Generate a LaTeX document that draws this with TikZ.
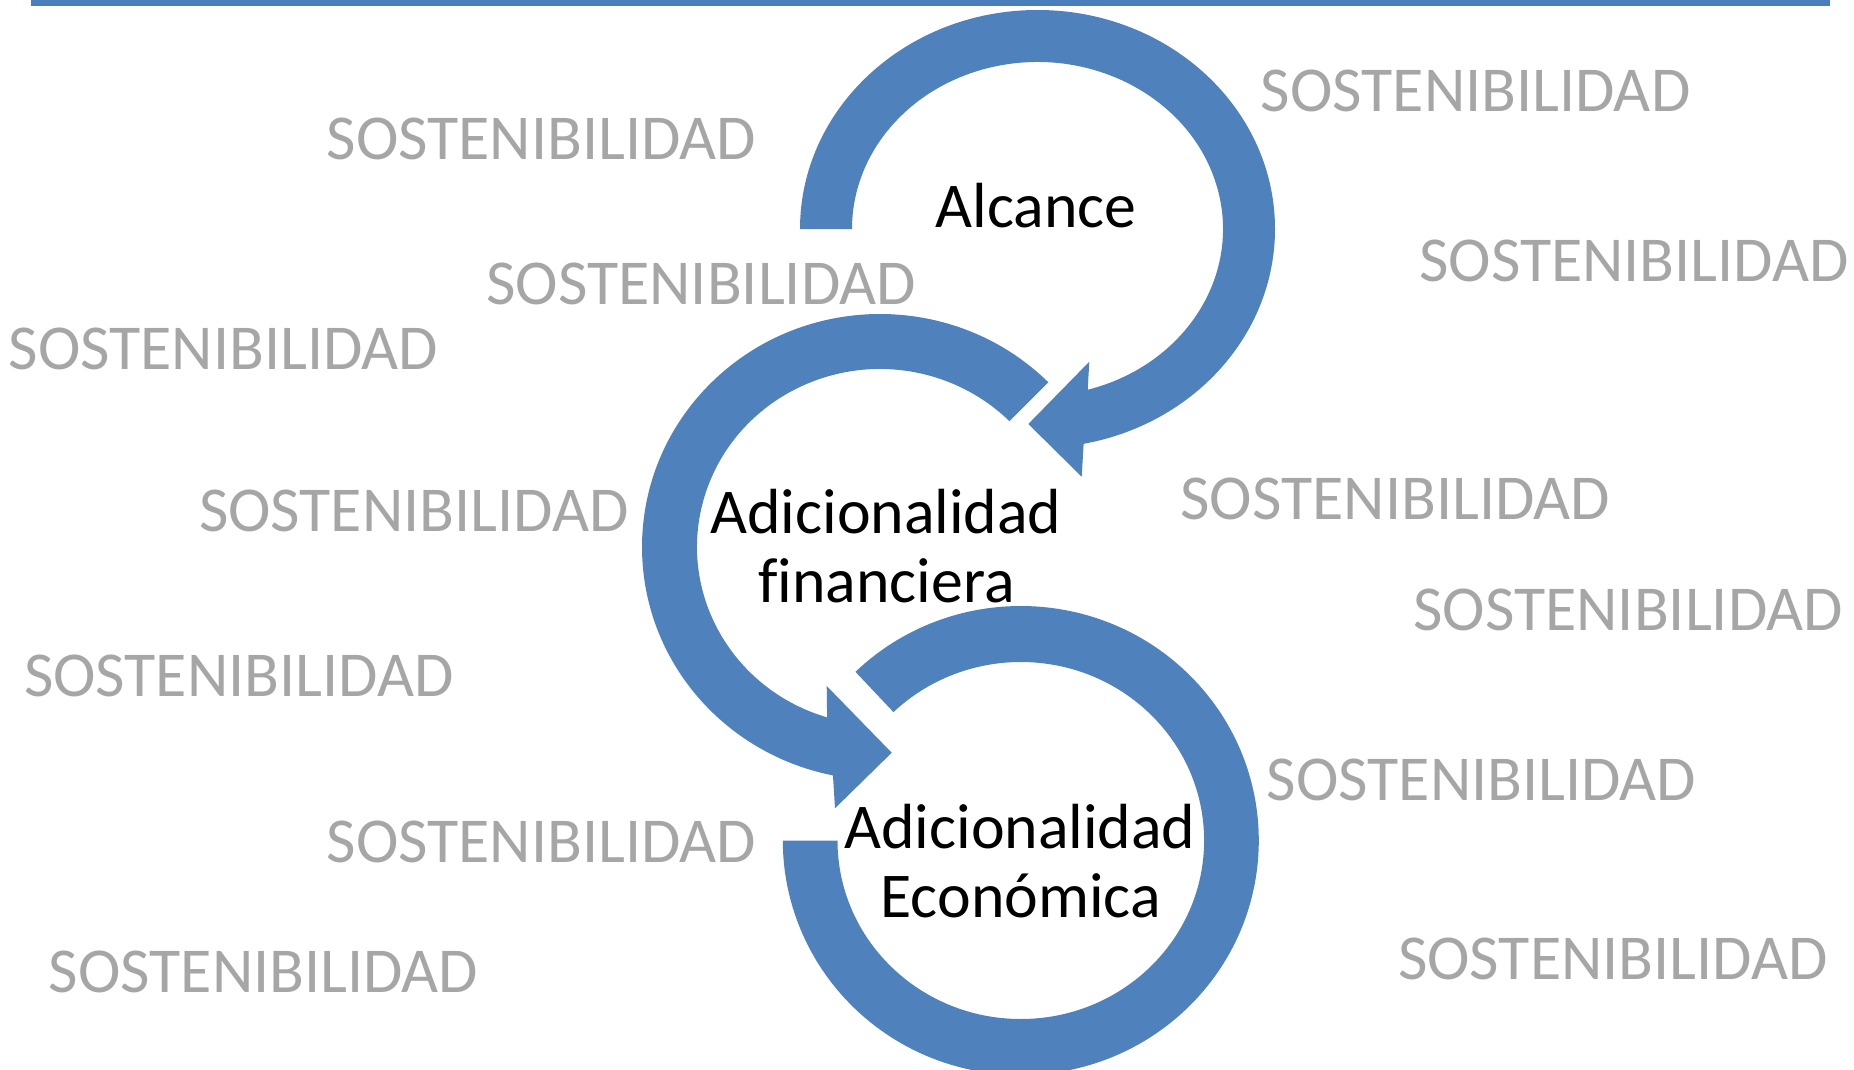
\documentclass[tikz,border=0pt]{standalone}
\usepackage{fontspec}
\setmainfont{Carlito}[Ligatures=NoCommon]
\definecolor{ringblue}{HTML}{4F81BD}
\definecolor{topblue}{HTML}{4A7EBB}
\definecolor{sgray}{HTML}{A6A6A6}
\tikzset{
  graylbl/.style={inner sep=0pt, anchor=base, text=sgray, font=\fontsize{64}{68}\selectfont},
  blacklbl/.style={inner sep=0pt, anchor=base, text=black, font=\fontsize{63.8}{68}\selectfont},
  ring/.style={fill=ringblue, draw=none}
}
\begin{document}
\begin{tikzpicture}[x=1pt,y=1pt]
\useasboundingbox (0,0) rectangle (1854,-1070);
\clip (0,0) rectangle (1854,-1070);
\fill[topblue] (31,0) rectangle (1830,-6);
% ring 1 (Alcance)
\begin{scope}[shift={(1037.5,-229)}]
\path[ring] (180:237.5 and 219) arc[start angle=180, end angle=-78.8, x radius=237.5, y radius=219]
  -- (44.2,-247.7) -- (-9.2,-195) -- (51.8,-132.7)
  -- (-74.3:185.5 and 167) arc[start angle=-74.3, end angle=180, x radius=185.5, y radius=167] -- cycle;
\end{scope}
% ring 2 (Adicionalidad financiera)
\begin{scope}[shift={(880,-547)}]
\path[ring] (45:238 and 233) arc[start angle=45, end angle=258.6, x radius=238, y radius=233]
  -- (-45,-261.3) -- (11.7,-205.7) -- (-53.3,-139)
  -- (253.2:183 and 178) arc[start angle=253.2, end angle=45, x radius=183, y radius=178] -- cycle;
\end{scope}
% ring 3 (Adicionalidad Economica)
\begin{scope}[shift={(1020.8,-840.5)}]
\path[ring] (134:238 and 234.5) arc[start angle=134, end angle=-180, x radius=238, y radius=234.5]
  -- (-180:183.3 and 178.5) arc[start angle=-180, end angle=134, x radius=183.3, y radius=178.5] -- cycle;
\end{scope}
% gray labels
\node[graylbl] (s1) at (541.5,-159.8) {SOSTENIBILIDAD};
\node[graylbl] (s2) at (1475.7,-112) {SOSTENIBILIDAD};
\node[graylbl] (s3) at (701.2,-304.1) {SOSTENIBILIDAD};
\node[graylbl] (s4) at (1634,-281) {SOSTENIBILIDAD};
\node[graylbl] (s5) at (223.5,-369.7) {SOSTENIBILIDAD};
\node[graylbl] (s6) at (413.8,-531.7) {SOSTENIBILIDAD};
\node[graylbl] (s7) at (1395.3,-519.3) {SOSTENIBILIDAD};
\node[graylbl] (s8) at (1628.2,-630.4) {SOSTENIBILIDAD};
\node[graylbl] (s9) at (238.8,-696.6) {SOSTENIBILIDAD};
\node[graylbl] (s10) at (1481.6,-800.7) {SOSTENIBILIDAD};
\node[graylbl] (s11) at (541.5,-862.2) {SOSTENIBILIDAD};
\node[graylbl] (s12) at (263.7,-992.2) {SOSTENIBILIDAD};
\node[graylbl] (s13) at (1612.8,-979.2) {SOSTENIBILIDAD};
% black labels
\node[blacklbl] (alc) at (1036.2,-227.7) {Alcance};
\node[blacklbl] (fin1) at (886,-533.3) {Adicionalidad};
\node[blacklbl] (fin2) at (886.3,-602.7) {financiera};
\node[blacklbl] (eco1) at (1020,-848.3) {Adicionalidad};
\node[blacklbl] (eco2) at (1020.7,-917.3) {Económica};
\end{tikzpicture}
\end{document}
